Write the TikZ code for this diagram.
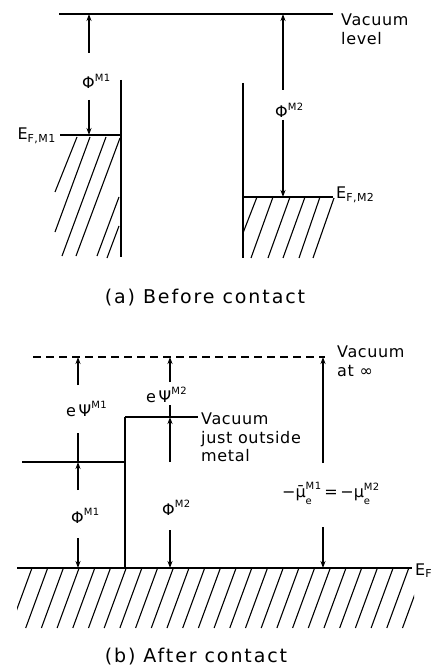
\documentclass[tikz,border=0pt]{standalone}
\usepackage{fontspec}
\setmainfont{DejaVu Sans}
\usetikzlibrary{arrows.meta}
\newcommand\lblfont{\fontsize{16}{18.5}\selectfont\addfontfeature{LetterSpace=4}}
\newcommand\smfont{\fontsize{10}{10}\selectfont}
\newcommand\capfont{\fontsize{19}{21}\selectfont\addfontfeature{LetterSpace=10}}
\newcommand\sups[2]{$\hbox{#1}^{\hbox{\smfont #2}}$}
\newcommand\subs[2]{$\hbox{#1}_{\hbox{\fontsize{11}{11}\selectfont #2}}$}
\newcommand\supsubs[3]{$\hbox{#1}^{\raise1pt\hbox{\smfont #2}}_{\lower2pt\hbox{\smfont #3}}$}
\begin{document}
\begin{tikzpicture}[x=1pt,y=-1pt,
  lvl/.style={line width=1.8pt},
  hatch/.style={line width=1.1pt},
  shaft/.style={line width=1.3pt},
  arr/.style={line width=1.3pt,-{Stealth[length=7pt,width=5pt]}},
  lbl/.style={font=\lblfont,inner sep=0pt},
  captext/.style={font=\capfont,inner sep=0pt}]
\useasboundingbox (0,0) rectangle (441,668);
% ---------------- (a) before contact ----------------
\coordinate (vacA) at (59,14); \coordinate (vacB) at (333,14);
\draw[lvl] (vacA) -- (vacB);
\node[lbl,anchor=north west,align=left] (vaclevel) at (341,14) {Vacuum\\level};
% metal 1
\coordinate (m1top) at (121,80); \coordinate (m1bot) at (121,257);
\draw[lvl] (m1top) -- (m1bot);
\coordinate (ef1a) at (60,135); \coordinate (ef1b) at (121,135);
\draw[lvl] (ef1a) -- (ef1b);
\node[lbl,anchor=base east] (ef1lab) at (56,140) {\subs{E}{F,M1}};
\draw[hatch] (55,192) -- (77,137);
\draw[hatch] (55,232) -- (90,137);
\draw[hatch] (62,256) -- (106,137);
\draw[hatch] (76,256) -- (120,138);
\draw[hatch] (97,256) -- (119,197);
\draw[hatch] (107,258) -- (119,226);
% phi M1 arrow
\coordinate (p1top) at (89,14); \coordinate (p1u) at (89,53);
\coordinate (p1l) at (89,100); \coordinate (p1bot) at (89,135);
\draw[arr] (p1u) -- (p1top);
\draw[arr] (p1l) -- (p1bot);
\node[lbl,anchor=base west] (phi1a) at (82,89) {\sups{Φ}{M1}};
% metal 2
\coordinate (m2top) at (243,83); \coordinate (m2bot) at (243,258);
\draw[lvl] (m2top) -- (m2bot);
\coordinate (ef2a) at (243,197); \coordinate (ef2b) at (333,197);
\draw[lvl] (ef2a) -- (ef2b);
\node[lbl,anchor=base west] (ef2lab) at (336,199) {\subs{E}{F,M2}};
\draw[hatch] (243,233) -- (257,197);
\draw[hatch] (251,258) -- (273,197);
\draw[hatch] (268,258) -- (290,197);
\draw[hatch] (283,258) -- (305,197);
\draw[hatch] (299,258) -- (320,197);
\draw[hatch] (313,258) -- (334,198);
% phi M2 arrow
\coordinate (p2top) at (283,14); \coordinate (p2u) at (283,90);
\coordinate (p2l) at (283,120); \coordinate (p2bot) at (283,197);
\draw[arr] (p2u) -- (p2top);
\draw[arr] (p2l) -- (p2bot);
\node[lbl,anchor=base west] (phi2a) at (275,118) {\sups{Φ}{M2}};
\node[captext] (capa) at (205,298) {(a) Before contact};
% ---------------- (b) after contact ----------------
\coordinate (dvA) at (33,357); \coordinate (dvB) at (325,357);
\draw[line width=1.5pt,dash pattern=on 8pt off 5pt] (dvA) -- (dvB);
\node[lbl,anchor=north west,align=left] (vacinf) at (337,346) {Vacuum\\at ∞};
% metal 1 vacuum level and junction
\coordinate (v1a) at (22,462); \coordinate (v1b) at (125,462);
\draw[lvl] (v1a) -- (v1b);
\coordinate (jtop) at (125,417); \coordinate (jbot) at (125,568);
\draw[lvl] (jtop) -- (jbot);
\coordinate (v2b) at (198,417);
\draw[lvl] (jtop) -- (v2b);
\node[lbl,anchor=north west,align=left] (vjust) at (201,413) {Vacuum\\just outside\\metal};
% Fermi level
\coordinate (efa) at (17,568); \coordinate (efb) at (412,568);
\draw[lvl] (efa) -- (efb);
\node[lbl,anchor=base west] (eflab) at (415,575) {\subs{E}{F}};
\begin{scope}
\clip (17,560) rectangle (414,634);
\foreach \k in {0,...,25} \draw[hatch] ({32+15.7*\k},568) -- ({10+15.7*\k},628);
\end{scope}
% x = 78 arrows
\coordinate (q1top) at (78,357); \coordinate (q1u) at (78,385);
\coordinate (q1m) at (78,433); \coordinate (q1v) at (78,462);
\coordinate (q1n) at (78,490); \coordinate (q1l) at (78,538); \coordinate (q1bot) at (78,568);
\draw[arr] (q1u) -- (q1top);
\draw[shaft] (q1m) -- (q1v);
\draw[arr] (q1n) -- (q1v);
\draw[arr] (q1l) -- (q1bot);
\node[lbl,anchor=base west] (psi1) at (66,416) {e\,\sups{Ψ}{M1}};
\node[lbl,anchor=base west] (phi1b) at (71,523) {\sups{Φ}{M1}};
% x = 170 arrows
\coordinate (q2top) at (170,357); \coordinate (q2u) at (170,382);
\coordinate (q2m) at (170,405); \coordinate (q2v) at (170,417);
\coordinate (q2n) at (170,462); \coordinate (q2l) at (170,530); \coordinate (q2bot) at (170,568);
\draw[arr] (q2u) -- (q2top);
\draw[shaft] (q2m) -- (q2v);
\draw[arr] (q2n) -- (q2v);
\draw[arr] (q2l) -- (q2bot);
\node[lbl,anchor=base west] (psi2) at (146,402) {e\,\sups{Ψ}{M2}};
\node[lbl,anchor=base west] (phi2b) at (162,515) {\sups{Φ}{M2}};
% x = 323 arrows
\coordinate (q3top) at (323,357); \coordinate (q3u) at (323,463);
\coordinate (q3l) at (323,527); \coordinate (q3bot) at (323,568);
\draw[arr] (q3u) -- (q3top);
\draw[arr] (q3l) -- (q3bot);
\node[lbl] (mulab) at (331,493) {−\supsubs{μ^^^^0304}{M1}{e}\,=\,−\supsubs{μ}{M2}{e}};
\node[captext] (capb) at (196,657) {(b) After contact};
\end{tikzpicture}
\end{document}
